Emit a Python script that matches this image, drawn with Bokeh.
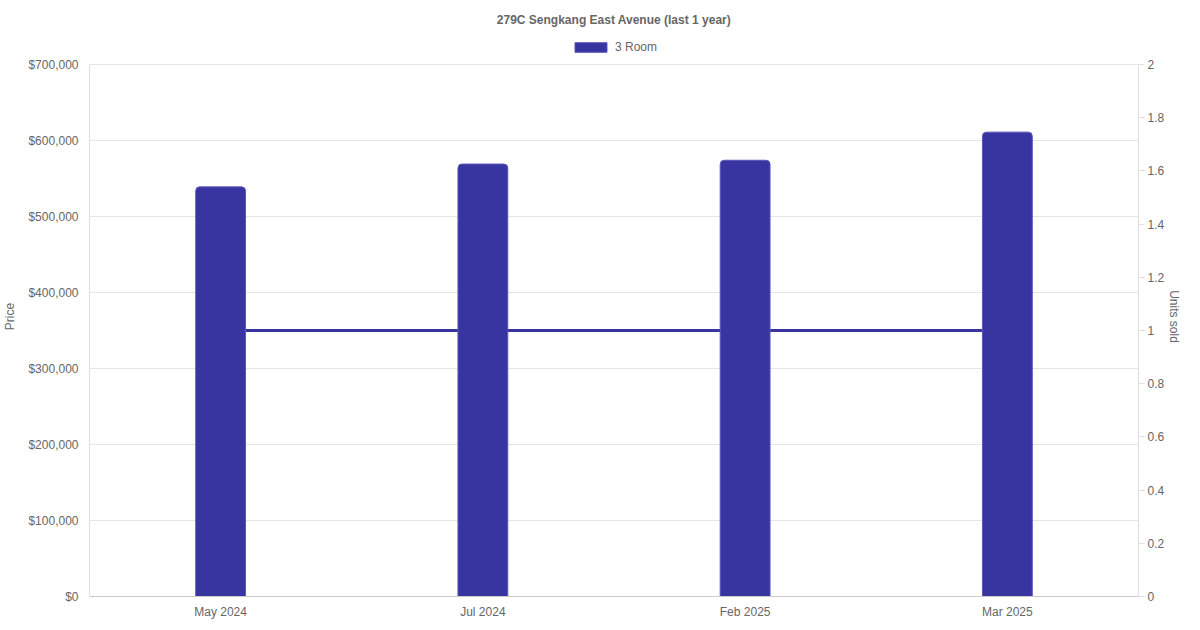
import numpy as np
from bokeh.plotting import figure
from bokeh.embed import file_html
from bokeh.resources import INLINE
from bokeh.models import (ColumnDataSource, FactorRange, Range1d, LinearAxis,
                          NumeralTickFormatter, FixedTicker, Legend, LegendItem)

# Data
months = ["May 2024", "Jul 2024", "Feb 2025", "Mar 2025"]
price_3room = [539000, 569000, 574000, 611000]
units_sold = [1, 1, 1, 1]

price_ticks = [0, 100000, 200000, 300000, 400000, 500000, 600000, 700000]
units_ticks = [0, 0.2, 0.4, 0.6, 0.8, 1, 1.2, 1.4, 1.6, 1.8, 2]
units_labels = ["0", "0.2", "0.4", "0.6", "0.8", "1", "1.2", "1.4", "1.6", "1.8", "2"]

FONT = "Liberation Sans"
TXT = "#666666"
BAR = "#3834A0"

# the frame is taller than the data area so the legend can sit inside it,
# above the $700,000 line
DATA_PX = 532
PAD_PX = 28
FRAME_PX = DATA_PX + PAD_PX
price_max, units_max = 700000, 2
stretch = FRAME_PX / DATA_PX

source = ColumnDataSource(dict(month=months, price=price_3room, units=units_sold))

p = figure(
    width=1184, frame_height=FRAME_PX,
    x_range=FactorRange(*months, range_padding=0),
    y_range=Range1d(0, price_max * stretch),
    toolbar_location=None,
    output_backend="svg",
    min_border_left=80, min_border_right=0,
    min_border_top=0, min_border_bottom=0,
    outline_line_color=None,
)

p.title.text = "279C Sengkang East Avenue (last 1 year)"
p.title.align = "center"
p.title.text_font = FONT
p.title.text_font_size = "12px"
p.title.text_font_style = "bold"
p.title.text_color = TXT
p.title.standoff = 20

# secondary axis for units sold
p.extra_y_ranges["units"] = Range1d(0, units_max * stretch)
units_axis = LinearAxis(y_range_name="units", axis_label="Units sold",
                        bounds=(0, units_max))
p.add_layout(units_axis, "right")

# line first so bars sit on top of it
p.line("month", "units", source=source, y_range_name="units",
       line_color=BAR, line_width=3)

bars = p.vbar(x="month", top="price", source=source, width=0.19,
              fill_color=BAR, line_color="#5a56bb", line_width=1,
              border_radius=(4, 4, 0, 0))

legend = Legend(items=[LegendItem(label="3 Room", renderers=[bars])],
                orientation="horizontal", location="top_center",
                glyph_width=40, glyph_height=12,
                label_text_font=FONT, label_text_font_size="12px",
                label_text_color=TXT, border_line_color=None,
                background_fill_alpha=0, padding=2, margin=4, spacing=6)
p.add_layout(legend, "center")

# left axis
p.yaxis[0].axis_label = "Price"
p.yaxis[0].formatter = NumeralTickFormatter(format="$0,0")
p.yaxis[0].ticker = FixedTicker(ticks=price_ticks)
p.yaxis[0].bounds = (0, price_max)

units_axis.ticker = FixedTicker(ticks=units_ticks)
units_axis.major_label_overrides = {t: l for t, l in zip(units_ticks, units_labels)}

for ax in p.yaxis + p.xaxis:
    ax.major_label_text_font = FONT
    ax.major_label_text_font_size = "12px"
    ax.major_label_text_color = TXT
    ax.axis_label_text_font = FONT
    ax.axis_label_text_font_size = "12px"
    ax.axis_label_text_font_style = "normal"
    ax.axis_label_text_color = TXT
    ax.minor_tick_line_color = None
    ax.major_tick_in = 0
    ax.axis_line_color = "#e0e0e0"
    ax.major_tick_line_color = "#e0e0e0"

p.yaxis[0].major_tick_out = 0
p.yaxis[0].major_label_standoff = 11
p.yaxis[0].axis_label_standoff = 8
units_axis.major_tick_out = 6
units_axis.major_label_standoff = 3
units_axis.axis_label_standoff = 0

p.xaxis.major_tick_out = 0
p.xaxis.major_label_standoff = 8
p.xaxis.axis_line_color = "#cccccc"

p.xgrid.grid_line_color = None
p.ygrid.grid_line_color = "#e5e5e5"
p.ygrid.ticker = FixedTicker(ticks=price_ticks)

open("out.html", "w").write(file_html(p, INLINE))
